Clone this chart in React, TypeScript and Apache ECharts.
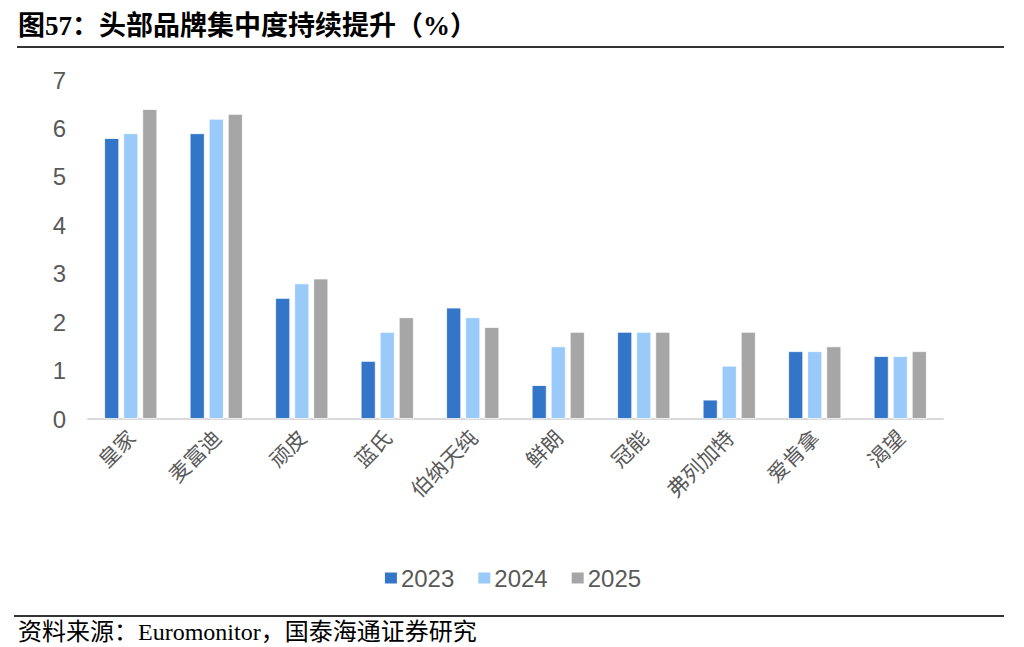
import React, { useEffect, useRef } from "react";
import * as echarts from "echarts";

const categories = ["皇家", "麦富迪", "顽皮", "蓝氏", "伯纳天纯", "鲜朗", "冠能", "弗列加特", "爱肯拿", "渴望"];
const seriesNames = ["2023", "2024", "2025"];
const values2023 = [5.8, 5.9, 2.5, 1.2, 2.3, 0.7, 1.8, 0.4, 1.4, 1.3];
const values2024 = [5.9, 6.2, 2.8, 1.8, 2.1, 1.5, 1.8, 1.1, 1.4, 1.3];
const values2025 = [6.4, 6.3, 2.9, 2.1, 1.9, 1.8, 1.8, 1.8, 1.5, 1.4];
const colors = ["#3375C9", "#99CAFA", "#A6A6A6"];
const titleText = "图57：头部品牌集中度持续提升（%）";
const sourceText = "资料来源：Euromonitor，国泰海通证券研究";

export default function App() {
  const ref = useRef<HTMLDivElement>(null);
  useEffect(() => {
    if (!ref.current) return;
    const chart = echarts.init(ref.current, null, { renderer: "svg" });
    const data = [values2023, values2024, values2025];
    chart.setOption({
      animation: false,
      backgroundColor: "#ffffff",
      textStyle: { fontFamily: "'Liberation Sans', Arial, 'Noto Sans CJK SC', sans-serif" },
      graphic: [
        {
          type: "text",
          left: 18,
          top: 12,
          style: {
            text: titleText,
            fontSize: 27,
            fontWeight: "bold",
            fontFamily: "'Liberation Serif', 'Noto Sans CJK SC', serif",
            fill: "#000",
          },
        },
        {
          type: "line",
          shape: { x1: 17, y1: 47, x2: 1004, y2: 47 },
          style: { stroke: "#333", lineWidth: 2 },
        },
        {
          type: "line",
          shape: { x1: 14, y1: 616, x2: 1004, y2: 616 },
          style: { stroke: "#333", lineWidth: 2 },
        },
        {
          type: "text",
          left: 18,
          top: 620,
          style: {
            text: sourceText,
            fontSize: 24,
            fontFamily: "'Liberation Serif', 'Noto Sans CJK SC', serif",
            fill: "#000",
          },
        },
      ],
      legend: {
        data: seriesNames,
        top: 561,
        left: "center",
        itemWidth: 14,
        itemHeight: 13,
        itemGap: 22,
        icon: "rect",
        textStyle: { fontSize: 24, color: "#595959", padding: [0, 0, 0, -2] },
      },
      grid: { left: 88, right: 81, top: 80, bottom: 228, containLabel: false },
      xAxis: {
        type: "category",
        data: categories,
        axisLine: { lineStyle: { color: "#D9D9D9", width: 2 } },
        axisTick: { show: false },
        axisLabel: {
          rotate: 45,
          fontSize: 21,
          color: "#595959",
          margin: 14,
          interval: 0,
          fontFamily: "'Noto Sans CJK SC', sans-serif",
        },
      },
      yAxis: {
        type: "value",
        min: 0,
        max: 7,
        interval: 1,
        axisLine: { show: false },
        axisTick: { show: false },
        splitLine: { show: false },
        axisLabel: { fontSize: 24, color: "#595959", margin: 22 },
      },
      series: seriesNames.map((name, i) => ({
        name,
        type: "bar",
        data: data[i],
        barWidth: 15,
        barGap: "27%",
        itemStyle: { color: colors[i], borderColor: "#ffffff", borderWidth: 0.8 },
      })),
    });
    return () => chart.dispose();
  }, []);
  return (
    <div
      ref={ref}
      style={{ position: "absolute", left: 0, top: 0, width: 1024, height: 647 }}
    />
  );
}
